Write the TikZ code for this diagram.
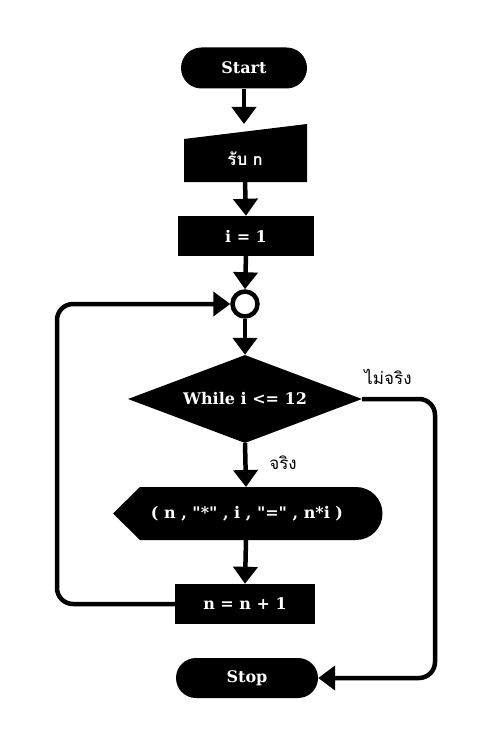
\documentclass[tikz,border=0pt]{standalone}
\usepackage{fontspec}
\setmainfont{DejaVu Serif}[Ligatures=TeXOff]
\newfontfamily\thai[Script=Thai]{Loma}
\usetikzlibrary{shapes.geometric,shapes.misc,arrows.meta}
\begin{document}
\begin{tikzpicture}[x=1pt,y=-1pt,
  blk/.style={fill=black,text=white,font=\bfseries\fontsize{16}{18}\selectfont,inner sep=0pt},
  term/.style={blk,rounded rectangle,minimum height=41pt},
  proc/.style={blk,rectangle,minimum height=40pt},
  arr/.style={line width=4.5pt,-{Triangle[width=24pt,length=17pt]}},
  lbl/.style={font=\thai\fontsize{17}{19}\selectfont,text=black}]
\useasboundingbox (0,0) rectangle (492,738);
% Start
\node[term,minimum width=126pt] (start) at (244,68) {Start};
% manual input
\fill (184,139) -- (307,124) -- (307,182) -- (184,182) -- cycle;
\node[blk,font=\thai\bfseries\fontsize{17}{19}\selectfont] (inp) at (245,159) {รับ n};
\coordinate (inpT) at (244,124);
\coordinate (inpB) at (245,182);
% i = 1
\node[proc,minimum width=136pt] (i1) at (246,236) {i = 1};
% connector circle
\node[circle,draw=black,line width=4.5pt,fill=white,minimum size=25pt,inner sep=0pt] (circ) at (245,304) {};
% decision
\node[blk,diamond,aspect=2.66,minimum width=234pt,minimum height=88pt] (dia) at (245,399) {While i <= 12};
% display
\fill (140,487) -- (356,487) arc[start angle=-90,end angle=90,radius=26.5] -- (140,540) -- (113,513.5) -- cycle;
\node[blk] (disp) at (247,513.5) {( n , "*" , i , "=" , n*i )};
\coordinate (dispT) at (246,487);
\coordinate (dispB) at (246,540);
% n = n + 1
\node[proc,minimum width=140pt] (inc) at (245,604) {n = n + 1};
% Stop
\node[term,minimum width=142pt,minimum height=40pt] (stop) at (247,678) {Stop};
% connectors
\draw[arr] (start.south) -- (inpT);
\draw[arr] (inpB) -- (i1.north);
\draw[arr] (i1.south) -- (circ.north);
\draw[arr] (circ.south) -- (dia.north);
\draw[arr] (dia.south) -- (dispT);
\draw[arr] (dispB) -- (inc.north);
\coordinate (loopL) at (57,304);
\draw[arr,rounded corners=16pt] (inc.west) -| (loopL) -- (circ.west);
\coordinate (loopR) at (435,678);
\draw[arr,rounded corners=16pt] (dia.east) -| (loopR) -- (stop.east);
% labels
\node[lbl] (no) at (388,377) {ไม่จริง};
\node[lbl] (yes) at (283,463) {จริง};
\end{tikzpicture}
\end{document}
